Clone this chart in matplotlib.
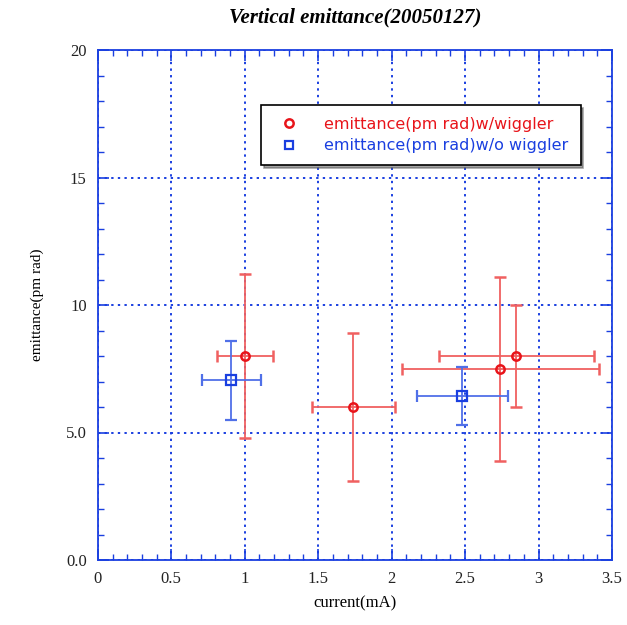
import matplotlib
matplotlib.use('Agg')
import matplotlib.pyplot as plt
from matplotlib.lines import Line2D
from matplotlib.ticker import MultipleLocator, FixedLocator, FixedFormatter

# data
wig_current = [1.0, 1.74, 2.74, 2.85]
wig_current_err = [0.19, 0.28, 0.67, 0.53]
wig_emit = [8.0, 6.0, 7.5, 8.0]
wig_emit_err = [3.2, 2.9, 3.6, 2.0]

nowig_current = [0.91, 2.48]
nowig_current_err = [0.2, 0.31]
nowig_emit = [7.05, 6.43]
nowig_emit_err = [1.55, 1.15]

xticks = [0, 0.5, 1, 1.5, 2, 2.5, 3, 3.5]
xticklabels = ['0', '0.5', '1', '1.5', '2', '2.5', '3', '3.5']
yticks = [0, 5, 10, 15, 20]
yticklabels = ['0.0', '5.0', '10', '15', '20']
labels = ['emittance(pm rad)w/wiggler', 'emittance(pm rad)w/o wiggler']

red = '#e8141a'
blue = '#1a3fe0'
serif = ['Liberation Serif', 'DejaVu Serif']

fig = plt.figure(figsize=(6.27, 6.25), dpi=100)
ax = fig.add_axes([0.156, 0.104, 0.82, 0.816])

ax.errorbar(wig_current, wig_emit, xerr=wig_current_err, yerr=wig_emit_err,
			fmt='o', color=red, ecolor='#f06060', elinewidth=1.3, capsize=4,
			markersize=6, markerfacecolor='none', markeredgewidth=1.8, zorder=3)
ax.errorbar(nowig_current, nowig_emit, xerr=nowig_current_err, yerr=nowig_emit_err,
			fmt='s', color=blue, ecolor='#5070e8', elinewidth=1.3, capsize=4,
			markersize=7, markerfacecolor='none', markeredgewidth=1.6, zorder=3)

ax.set_xlim(0, 3.5)
ax.set_ylim(0, 20)
ax.xaxis.set_major_locator(FixedLocator(xticks))
ax.xaxis.set_major_formatter(FixedFormatter(xticklabels))
ax.yaxis.set_major_locator(FixedLocator(yticks))
ax.yaxis.set_major_formatter(FixedFormatter(yticklabels))
ax.xaxis.set_minor_locator(MultipleLocator(0.1))
ax.yaxis.set_minor_locator(MultipleLocator(1))

ax.grid(True, which='major', color=blue, linestyle=(0, (1.2, 2.2)), linewidth=1.4, zorder=0)
for s in ax.spines.values():
	s.set_color(blue)
	s.set_linewidth(1.3)
ax.tick_params(which='both', direction='in', top=True, right=True, colors=blue, labelcolor='#222222')
ax.tick_params(which='major', length=8, width=1.2, pad=8)
ax.tick_params(which='minor', length=4, width=1)
for lab in ax.get_xticklabels() + ax.get_yticklabels():
	lab.set_family(serif)
	lab.set_fontsize(12)

ax.set_xlabel('current(mA)', family=serif, fontsize=12, labelpad=6)
ax.set_ylabel('emittance(pm rad)', family=serif, fontsize=11, labelpad=16)
ax.set_title('Vertical emittance(20050127)', family=serif, fontsize=15,
			 fontweight='bold', style='italic', pad=20)

handles = [
	Line2D([], [], marker='o', linestyle='none', color=red, markerfacecolor='none',
		   markersize=6, markeredgewidth=1.8),
	Line2D([], [], marker='s', linestyle='none', color=blue, markerfacecolor='none',
		   markersize=6, markeredgewidth=1.6),
]
leg = ax.legend(handles, labels, loc='upper left', bbox_to_anchor=(0.318, 0.892),
				fancybox=False, shadow=True, edgecolor='black', framealpha=1,
				fontsize=11.5, handletextpad=1.2, borderpad=0.75, labelspacing=0.4,
				borderaxespad=0)
leg.get_frame().set_linewidth(1.2)
for t, c in zip(leg.get_texts(), [red, blue]):
	t.set_color(c)

fig.savefig('out.png', dpi=100)
